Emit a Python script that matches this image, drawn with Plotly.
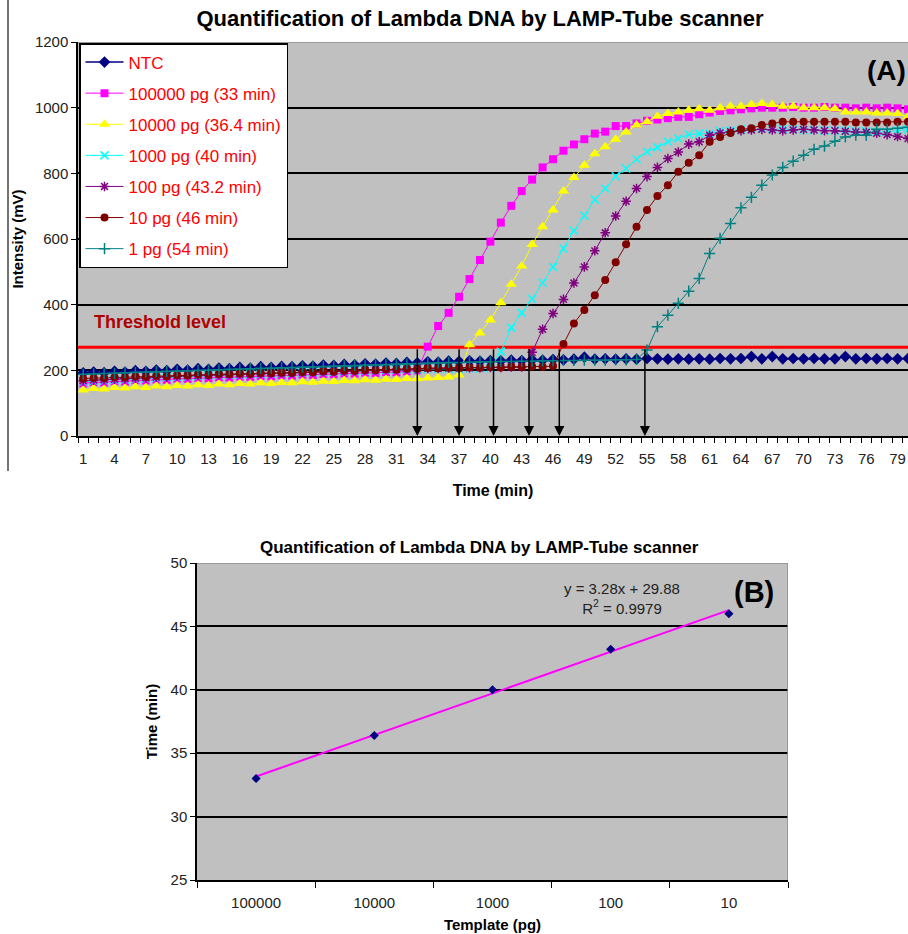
import numpy as np
import plotly.graph_objects as go

# ---------------- data: panel (A) ----------------
minutes = list(range(1, 81))

ntc = [192, 195, 193, 197, 195, 199, 197, 201, 199, 203,
       201, 205, 203, 207, 205, 209, 207, 211, 209, 212,
       211, 214, 213, 216, 215, 218, 217, 220, 219, 222,
       221, 224, 223, 226, 225, 228, 227, 229, 228, 230,
       229, 231, 230, 232, 231, 233, 232, 234, 240, 234,
       235, 234, 235, 234, 236, 235, 234, 235, 234, 235,
       234, 236, 235, 236, 242, 235, 242, 235, 236, 235,
       236, 235, 235, 242, 235, 236, 235, 236, 235, 236]

pg100000 = [160, 164, 163, 167, 166, 170, 169, 172, 171, 175,
            174, 177, 176, 179, 178, 181, 180, 183, 182, 185,
            184, 187, 186, 189, 188, 191, 190, 193, 192, 195,
            194, 197, 200,
            272, 335, 375, 424, 478, 536, 592, 650, 701, 746,
            781, 818, 843, 869, 888, 904, 921, 927, 944, 944,
            952, 960, 964, 968, 972, 972, 980, 985, 990, 992,
            995, 998, 1000, 1000, 1000, 1002, 1000, 1000, 1002, 1000,
            1000, 998, 1000, 998, 1000, 998, 995]

pg10000 = [140, 145, 143, 148, 146, 150, 148, 152, 150, 154,
           152, 156, 154, 158, 156, 160, 158, 162, 160, 163,
           162, 165, 164, 167, 166, 169, 168, 171, 170, 173,
           172, 175, 174, 177, 178, 180, 186,
           278, 314, 353, 406, 462, 518, 583, 637, 688, 746,
           787, 825, 860, 881, 904, 926, 947, 957, 974, 982,
           987, 992, 997, 992, 1000, 1004, 1004, 1010, 1013, 1010,
           1004, 1004, 1000, 1000, 1000, 997, 987, 987, 987, 984,
           984, 982, 972]

pg1000 = [166, 168, 169, 171, 172, 174, 175, 177, 178, 180,
          181, 182, 184, 185, 186, 187, 188, 189, 190, 191,
          192, 193, 194, 195, 196, 197, 198, 199, 200, 201,
          202, 203, 203, 204, 204, 205, 205, 206, 206, 207,
          257, 330, 375, 417, 467, 515, 571, 625, 671, 720,
          754, 791, 815, 843, 866, 879, 896, 906, 918, 921,
          921, 929, 930, 934, 934, 936, 936, 934, 934, 932,
          932, 930, 930, 930, 928, 928, 926, 926, 930, 934]

pg100 = [168, 170, 171, 173, 174, 176, 177, 179, 180, 182,
         183, 184, 185, 186, 187, 188, 189, 190, 191, 192,
         193, 194, 195, 196, 197, 198, 199, 200, 201, 202,
         203, 204, 205, 206, 206, 207, 207, 208, 208, 209,
         209, 210, 210,
         255, 325, 373, 416, 466, 515, 564, 619, 670, 715,
         754, 790, 818, 845, 865, 889, 896, 916, 923, 927,
         930, 932, 934, 932, 930, 932, 934, 932, 930, 930,
         928, 926, 925, 922, 918, 912, 906]

pg10 = [174, 177, 176, 179, 178, 181, 180, 183, 182, 185,
        184, 187, 186, 189, 188, 190, 189, 192, 191, 193,
        192, 195, 194, 197, 196, 199, 198, 201, 200, 203,
        202, 205, 204, 207, 206, 208, 207, 209, 208, 210,
        209, 211, 210, 212, 211, 213,
        280, 343, 384, 429, 475, 529, 584, 637, 688, 731,
        764, 805, 832, 855, 896, 911, 923, 934, 937, 947,
        952, 957, 957, 957, 957, 957, 957, 957, 955, 955,
        955, 955, 957, 957]

pg1 = [188, 189, 190, 191, 193, 194, 195, 196, 197, 198,
       199, 200, 201, 202, 203, 204, 205, 206, 207, 208,
       209, 210, 211, 212, 213, 214, 215, 216, 217, 218,
       219, 220, 221, 222, 223, 224, 224, 225, 226, 226,
       227, 227, 228, 228, 229, 229, 230, 230, 231, 231,
       231, 232, 232, 233,
       262, 333, 368, 404, 441, 480, 556, 602, 647, 695,
       727, 764, 795, 818, 837, 855, 873, 883, 898, 911,
       916, 916, 934, 934, 937, 940]

series_names = ["NTC", "100000 pg (33 min)", "10000 pg (36.4 min)", "1000 pg (40 min)",
                "100 pg (43.2 min)", "10 pg (46 min)", "1 pg (54 min)"]
series_values = [ntc, pg100000, pg10000, pg1000, pg100, pg10, pg1]

threshold_level = 270
arrow_times = [33.0, 37.0, 40.3, 43.7, 46.6, 54.8]
x_tick_labels = list(range(1, 80, 3))
y_ticks_a = [0, 200, 400, 600, 800, 1000, 1200]

# ---------------- data: panel (B) ----------------
templates = ["100000", "10000", "1000", "100", "10"]
template_times = [33, 36.4, 40, 43.2, 46]
y_ticks_b = [25, 30, 35, 40, 45, 50]

# ---------------- styling ----------------
W, H = 908, 934
FONT = "Liberation Sans, Arial, sans-serif"


def fx(p):
    return p / W


def fy(p):
    return 1 - p / H


styles = [
    dict(color="#000080", symbol="diamond", size=9, lw=1.5),
    dict(color="#FF00FF", symbol="square", size=8, lw=1),
    dict(color="#FFFF00", symbol="triangle-up", size=10, lw=1),
    dict(color="#00FFFF", symbol="x-thin", size=8, lw=1),
    dict(color="#800080", symbol="asterisk", size=8, lw=1),
    dict(color="#800000", symbol="circle", size=8, lw=1),
    dict(color="#008080", symbol="cross-thin", size=8, lw=1),
]

fig = go.Figure()

# threshold line (drawn under the curves)
fig.add_trace(go.Scatter(x=[minutes[0] - 0.5, minutes[-1] + 0.5],
                         y=[threshold_level, threshold_level],
                         mode="lines", line=dict(color="#FF0000", width=3),
                         showlegend=False, hoverinfo="skip",
                         xaxis="x", yaxis="y"))

for i, (name, vals, st) in enumerate(zip(series_names, series_values, styles)):
    thin = st["symbol"] in ("x-thin", "cross-thin", "asterisk")
    fig.add_trace(go.Scatter(
        x=minutes, y=vals, name=name, mode="lines+markers",
        legendgroup=f"g{i}",
        line=dict(color=st["color"], width=st["lw"]),
        marker=dict(symbol=st["symbol"], size=st["size"], color=st["color"],
                    line=dict(color=st["color"], width=1.5 if thin else 0)),
        xaxis="x", yaxis="y"))

# panel B: trendline from the fitted data
xpos = np.arange(1, len(templates) + 1)
slope, intercept = np.polyfit(xpos, template_times, 1)
pred = slope * xpos + intercept
ss_res = float(np.sum((np.array(template_times) - pred) ** 2))
ss_tot = float(np.sum((np.array(template_times) - np.mean(template_times)) ** 2))
r2 = 1 - ss_res / ss_tot

fig.add_trace(go.Scatter(x=xpos, y=pred, mode="lines",
                         line=dict(color="#FF00FF", width=2),
                         showlegend=False, hoverinfo="skip",
                         xaxis="x2", yaxis="y2"))
fig.add_trace(go.Scatter(x=xpos, y=template_times, mode="markers",
                         marker=dict(symbol="diamond", size=7, color="#000080"),
                         showlegend=False, xaxis="x2", yaxis="y2"))

tickfont = dict(family=FONT, size=15, color="#222222")
CLEAR = "rgba(0,0,0,0)"

fig.update_layout(
    width=W, height=H,
    margin=dict(l=0, r=0, t=0, b=0, autoexpand=False),
    paper_bgcolor="white", plot_bgcolor="#C0C0C0",
    font=dict(family=FONT, color="black"),
    title=dict(text="<b>Quantification of Lambda DNA by LAMP-Tube scanner</b>",
               x=fx(480), y=fy(18), xanchor="center", yanchor="middle",
               font=dict(family=FONT, size=22, color="black")),
    showlegend=True,
    legend=dict(x=fx(79), y=fy(43), xanchor="left", yanchor="top",
                bgcolor="white", bordercolor="black", borderwidth=1.5,
                font=dict(family=FONT, size=17, color="#FF0000"),
                itemwidth=38, traceorder="grouped", tracegroupgap=6,
                itemclick=False, itemdoubleclick=False),
    xaxis=dict(domain=[fx(78), 1.0], range=[0.5, 80.0], anchor="y", automargin=False,
               tickmode="array", tickvals=x_tick_labels, ticks="outside",
               ticklen=8, tickcolor=CLEAR,
               tickfont=tickfont, showgrid=False, zeroline=False,
               showline=True, linecolor="black", linewidth=1.5,
               minor=dict(tickmode="array",
                          tickvals=[m - 0.5 for m in minutes] + [minutes[-1] + 0.5],
                          ticks="outside", ticklen=5, tickwidth=1, tickcolor="black",
                          showgrid=False),
               title=dict(text="<b>Time (min)</b>", standoff=19,
                          font=dict(family=FONT, size=16, color="black"))),
    yaxis=dict(domain=[fy(436), fy(42)], range=[0, 1200], anchor="x", automargin=False,
               tickmode="array", tickvals=y_ticks_a, ticks="outside", ticklen=5,
               tickcolor="black", tickfont=tickfont,
               showgrid=True, gridcolor="black", gridwidth=1.5, zeroline=False,
               showline=True, linecolor="black", linewidth=1.5,
               title=dict(text="<b>Intensity (mV)</b>", standoff=8,
                          font=dict(family=FONT, size=15, color="black"))),
    xaxis2=dict(domain=[fx(197), fx(788)], range=[0.5, len(templates) + 0.5], anchor="y2",
                automargin=False,
                tickmode="array", tickvals=list(xpos), ticktext=templates, ticks="outside",
                ticklen=8, tickcolor=CLEAR,
                tickfont=tickfont, showgrid=False, zeroline=False,
                showline=True, linecolor="black", linewidth=1.5,
                minor=dict(tickmode="array",
                           tickvals=[p - 0.5 for p in xpos] + [len(templates) + 0.5],
                           ticks="outside", ticklen=6, tickwidth=1, tickcolor="black",
                           showgrid=False),
                title=dict(text="<b>Template (pg)</b>", standoff=10,
                           font=dict(family=FONT, size=15, color="black"))),
    yaxis2=dict(domain=[fy(880), fy(563)], range=[25, 50], anchor="x2", automargin=False,
                tickmode="array", tickvals=y_ticks_b, ticks="outside", ticklen=5,
                tickcolor="black", tickfont=tickfont,
                showgrid=True, gridcolor="black", gridwidth=1.5, zeroline=False,
                showline=True, linecolor="black", linewidth=1.5,
                title=dict(text="<b>Time (min)</b>", standoff=9,
                           font=dict(family=FONT, size=15, color="black"))),
)

shapes = [
    # plot-area top border (A)
    dict(type="line", xref="x domain", yref="y", x0=0, x1=1, y0=1200, y1=1200,
         line=dict(color="#8C8C8C", width=1.5)),
    # plot-area borders (B)
    dict(type="line", xref="x2 domain", yref="y2", x0=0, x1=1, y0=50, y1=50,
         line=dict(color="#8C8C8C", width=1.5)),
    dict(type="line", xref="x2", yref="y2 domain", x0=len(templates) + 0.5,
         x1=len(templates) + 0.5, y0=0, y1=1,
         line=dict(color="#8C8C8C", width=1.5)),
    # chart-area left border fragment
    dict(type="line", xref="paper", yref="paper", x0=fx(8), x1=fx(8), y0=1, y1=fy(471),
         line=dict(color="#444444", width=1.5)),
]

annotations = []
for t in arrow_times:
    annotations.append(dict(x=t, y=0, ax=t, ay=threshold_level, xref="x", yref="y",
                            axref="x", ayref="y", text=" ", showarrow=True,
                            arrowhead=2, arrowsize=1.35, arrowwidth=1.5,
                            arrowcolor="black", font=dict(size=1)))

center = dict(xref="paper", yref="paper", showarrow=False,
              xanchor="center", yanchor="middle")
annotations += [
    dict(text="<b>Threshold level</b>", x=fx(160), y=fy(322),
         font=dict(family=FONT, size=18, color="#B00000"), **center),
    dict(text="<b>(A)</b>", x=fx(886), y=fy(70),
         font=dict(family=FONT, size=28, color="black"), **center),
    dict(text="<b>Quantification of Lambda DNA by LAMP-Tube scanner</b>",
         x=fx(479), y=fy(547), font=dict(family=FONT, size=17, color="black"), **center),
    dict(text=f"y = {slope:.2f}x + {intercept:.2f}<br>R<sup>2</sup> = {r2:.4f}",
         x=fx(622), y=fy(598), font=dict(family=FONT, size=15, color="#222222"), **center),
    dict(text="<b>(B)</b>", x=fx(754), y=fy(592),
         font=dict(family=FONT, size=29, color="black"), **center),
]

fig.update_layout(shapes=shapes, annotations=annotations)

fig.write_html("out.html", config={"displayModeBar": False},
               post_script="document.body.style.margin='0';"
                           "document.documentElement.style.overflow='hidden';")
